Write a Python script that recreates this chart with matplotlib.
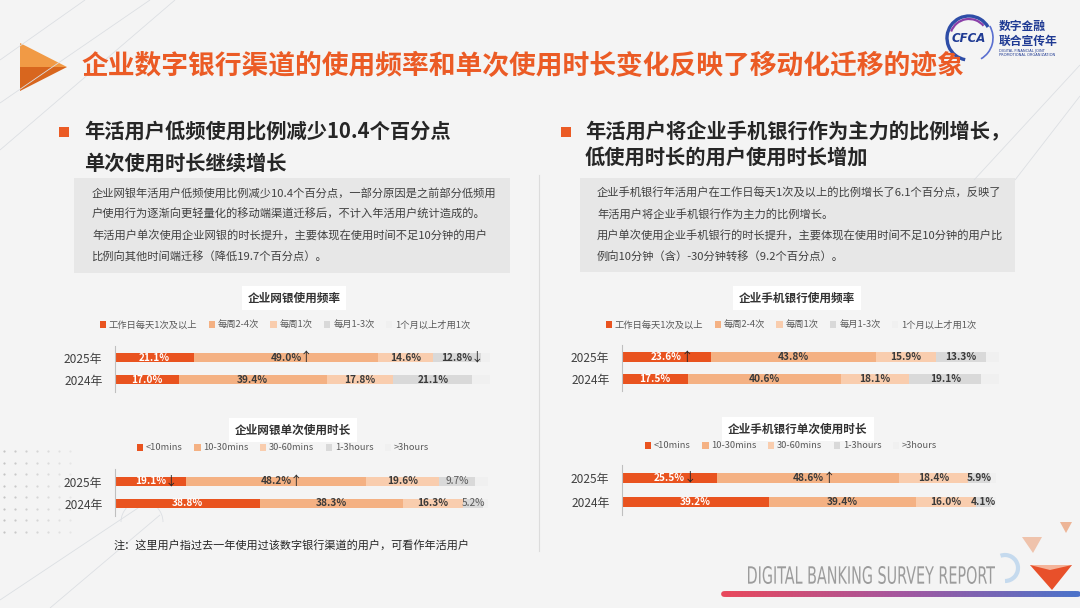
import matplotlib
matplotlib.use('Agg')
import matplotlib.pyplot as plt
import numpy as np
from matplotlib.patches import Rectangle, Polygon, Arc, PathPatch
from matplotlib.collections import LineCollection
from matplotlib.textpath import TextPath
from matplotlib.font_manager import FontProperties
from matplotlib.transforms import Affine2D

plt.rcParams['font.family'] = ['Noto Sans CJK SC', 'DejaVu Sans']

# ---- data ----
years = ['2025年', '2024年']
freq_cats = ['工作日每天1次及以上', '每周2-4次', '每周1次', '每月1-3次', '1个月以上才用1次']
dur_cats = ['<10mins', '10-30mins', '30-60mins', '1-3hours', '>3hours']

web_freq_2025 = [21.1, 49.0, 14.6, 12.8, 2.5]
web_freq_2024 = [17.0, 39.4, 17.8, 21.1, 4.7]
web_dur_2025 = [19.1, 48.2, 19.6, 9.7, 3.4]
web_dur_2024 = [38.8, 38.3, 16.3, 5.2, 1.4]
mob_freq_2025 = [23.6, 43.8, 15.9, 13.3, 3.4]
mob_freq_2024 = [17.5, 40.6, 18.1, 19.1, 4.7]
mob_dur_2025 = [25.5, 48.6, 18.4, 5.9, 1.6]
mob_dur_2024 = [39.2, 39.4, 16.0, 4.1, 1.3]

# change arrows on the 2025 row
web_freq_arrows = ['', '↑', '', '↓', '']
web_dur_arrows = ['↓', '↑', '', '', '']
mob_freq_arrows = ['↑', '', '', '', '']
mob_dur_arrows = ['↓', '↑', '', '', '']

title = '企业数字银行渠道的使用频率和单次使用时长变化反映了移动化迁移的迹象'
left_head = ['年活用户低频使用比例减少10.4个百分点', '单次使用时长继续增长']
right_head = ['年活用户将企业手机银行作为主力的比例增长，', '低使用时长的用户使用时长增加']
left_box = ['企业网银年活用户低频使用比例减少10.4个百分点，一部分原因是之前部分低频用',
            '户使用行为逐渐向更轻量化的移动端渠道迁移后，不计入年活用户统计造成的。',
            '年活用户单次使用企业网银的时长提升，主要体现在使用时间不足10分钟的用户',
            '比例向其他时间端迁移（降低19.7个百分点）。']
right_box = ['企业手机银行年活用户在工作日每天1次及以上的比例增长了6.1个百分点，反映了',
             '年活用户将企业手机银行作为主力的比例增长。',
             '用户单次使用企业手机银行的时长提升，主要体现在使用时间不足10分钟的用户比',
             '例向10分钟（含）-30分钟转移（9.2个百分点）。']
note = '注：这里用户指过去一年使用过该数字银行渠道的用户，可看作年活用户'

seg_colors = ['#E9531F', '#F4B183', '#F9CDAE', '#D9D9D9', '#F0F0F0']
ORANGE = '#EB5B25'
W_PX, H_PX = 1080, 608

fig = plt.figure(figsize=(10.8, 6.08), dpi=100)
fig.patch.set_facecolor('#F4F4F4')
bg = fig.add_axes([0, 0, 1, 1])
bg.set_xlim(0, W_PX)
bg.set_ylim(H_PX, 0)
bg.axis('off')

# ---- background decoration ----
deco = [[(0, 103), (150, 0)], [(0, 150), (175, 0)], [(0, 60), (85, 0)],
        [(1080, 65), (974, 180)], [(1080, 96), (1015, 180)],
        [(0, 600), (150, 500)], [(50, 608), (160, 515)]]
bg.add_collection(LineCollection(deco, colors='#DCDFE3', linewidths=0.6))
bg.add_patch(Arc((142, 522), 42, 42, theta1=180, theta2=360, color='#DCDFE3', lw=0.6))
for j in range(8):
    for k in range(7):
        bg.plot(4 + 11 * k, 451 + 11.5 * j, 'o', ms=1.6, color='#C4C4C4',
                alpha=max(0.15, 1 - 0.12 * k), mec='none')
bg.plot([539, 539], [175, 551], color='#DCDCDC', lw=0.8)

# ---- header ----
bg.add_patch(Polygon([(20, 43), (67, 67), (20, 67)], color='#F19A45', lw=0))
bg.add_patch(Polygon([(20, 67), (67, 67), (20, 91)], color='#D8661E', lw=0))
bg.text(82, 66, title, fontsize=19.3, weight='bold', color=ORANGE, va='center', ha='left')

# logo
bg.add_patch(Arc((969, 38), 44, 44, theta1=100, theta2=330, color='#2E4DA7', lw=2.4))
bg.add_patch(Arc((969, 38), 38, 38, theta1=200, theta2=320, color='#8A3FA8', lw=1.6))
bg.add_patch(Arc((969, 38), 48, 48, theta1=330, theta2=420, color='#5A6FD0', lw=1.2))
bg.text(969, 39, 'CFCA', fontsize=8.5, weight='bold', style='italic', color='#1F3A93',
        ha='center', va='center', family='DejaVu Sans')
bg.text(999, 26, '数字金融', fontsize=8.5, weight='bold', color='#1F3A93', va='center')
bg.text(999, 41, '联合宣传年', fontsize=8.5, weight='bold', color='#1F3A93', va='center')
bg.text(999, 51, 'DIGITAL FINANCIAL JOINT', fontsize=2.6, color='#1F3A93', va='center',
        family='DejaVu Sans')
bg.text(999, 55.5, 'PROMOTIONAL ORGANIZATION', fontsize=2.6, color='#1F3A93', va='center',
        family='DejaVu Sans')

# ---- section headings ----
for sx, tx, lines, ys in [(64, 84, left_head, (132, 163)), (566, 585, right_head, (132, 158))]:
    bg.add_patch(Rectangle((sx - 5, 127), 10, 10, color=ORANGE, lw=0))
    for line, y in zip(lines, ys):
        bg.text(tx, y, line, fontsize=14.6, weight='bold', color='#262626', va='center')

# ---- grey text boxes ----
for (x0, x1, y0, y1), tx, lines in [((74, 510, 178, 273), 92, left_box),
                                    ((580, 1015, 178, 272), 597, right_box)]:
    bg.add_patch(Rectangle((x0, y0), x1 - x0, y1 - y0, color='#E7E7E7', lw=0))
    for line, y in zip(lines, (193, 214, 236, 257)):
        bg.text(tx, y, line, fontsize=8.1, color='#404040', va='center')


def draw_chart(left, width, r25, r24, cats, v25, v24, arrows, ctitle, title_x, title_y,
               leg_x, leg_y, plain_last=False):
    d = r24 - r25
    top = r25 - 0.55 * d
    bottom = r24 + 0.55 * d
    ax = fig.add_axes([left / W_PX, 1 - bottom / H_PX, width / W_PX, (bottom - top) / H_PX])
    ax.set_facecolor('none')
    ax.set_xlim(0, 100)
    ax.set_ylim(1.55, -0.55)
    rows = np.array([0, 1])
    starts = np.zeros(2)
    bh = 9.5 / d
    for i, cat in enumerate(cats):
        vals = np.array([v25[i], v24[i]])
        ax.barh(rows, vals, left=starts, height=bh, color=seg_colors[i], label=cat, lw=0)
        if i < 4:
            for r, v, s in zip(rows, vals, starts):
                col = 'white' if i == 0 else '#3A3A3A'
                wt = 'bold'
                if plain_last and i == 3:
                    col, wt = '#595959', 'normal'
                ax.text(s + v / 2, r, f'{v:.1f}%', ha='center', va='center',
                        fontsize=7.3, weight=wt, color=col)
            if arrows[i]:
                ax.annotate(arrows[i], (starts[0] + vals[0] / 2, 0), xytext=(14.5, 0),
                            textcoords='offset points', ha='center', va='center',
                            fontsize=9, color='#262626')
        starts += vals
    for s in ['top', 'right', 'bottom']:
        ax.spines[s].set_visible(False)
    ax.spines['left'].set_color('#BFBFBF')
    ax.spines['left'].set_linewidth(0.8)
    ax.set_xticks([])
    ax.set_yticks(rows, years)
    ax.tick_params(axis='y', length=0, pad=9, labelsize=8.6, labelcolor='#404040')
    bg.text(title_x, title_y, ctitle, ha='center', va='center', fontsize=8.4,
            weight='bold', color='#333333',
            bbox=dict(boxstyle='square,pad=0.5', fc='white', ec='none'))
    leg = ax.legend(loc='center', bbox_to_anchor=(leg_x / W_PX, 1 - leg_y / H_PX),
                    bbox_transform=fig.transFigure, ncol=5, frameon=False, fontsize=6.7,
                    handlelength=0.7, handleheight=0.7, handletextpad=0.3,
                    columnspacing=1.2, borderpad=0)
    for t in leg.get_texts():
        t.set_color('#595959')
    return ax


draw_chart(115, 375, 357.7, 379.7, freq_cats, web_freq_2025, web_freq_2024, web_freq_arrows,
           '企业网银使用频率', 294, 298, 285, 325)
draw_chart(115, 373, 481.5, 503.5, dur_cats, web_dur_2025, web_dur_2024, web_dur_arrows,
           '企业网银单次使用时长', 293, 430, 283, 448, plain_last=True)
draw_chart(622, 377, 357, 379, freq_cats, mob_freq_2025, mob_freq_2024, mob_freq_arrows,
           '企业手机银行使用频率', 797, 298, 791, 325)
draw_chart(622, 374, 478, 502, dur_cats, mob_dur_2025, mob_dur_2024, mob_dur_arrows,
           '企业手机银行单次使用时长', 798, 429, 791, 446)

bg.text(114, 545, note, fontsize=8, color='#262626', va='center')

# ---- footer ----
fp = FontProperties(family='DejaVu Sans', stretch='condensed')
tp = TextPath((0, 0), 'DIGITAL BANKING SURVEY REPORT', size=1, prop=fp)
ext = tp.get_extents()
tr = Affine2D().translate(-ext.x0, -ext.y0).scale(247 / ext.width, -18 / ext.height).translate(748, 584)
bg.add_patch(PathPatch(tr.transform_path(tp), fc='#9C9C9C', ec='none'))

xs = np.linspace(724, 1078, 120)
segs = [[(xs[i], 594), (xs[i + 1], 594)] for i in range(len(xs) - 1)]
cmap = matplotlib.colors.LinearSegmentedColormap.from_list('foot', ['#E8485C', '#A5569E', '#4D72C9'])
bg.add_collection(LineCollection(segs, colors=cmap(np.linspace(0, 1, len(segs))),
                                 linewidths=4.2, capstyle='round'))
bg.add_patch(Arc((1005, 568), 26, 26, theta1=-110, theta2=90, color='#C5DAEE', lw=3))
bg.add_patch(Polygon([(1030, 565), (1072, 565), (1052, 590)], color='#E8502A', lw=0))
bg.add_patch(Polygon([(1030, 565), (1072, 565), (1050, 570)], color='#F4B49A', lw=0))
bg.add_patch(Polygon([(1022, 537), (1042, 537), (1033, 553)], color='#EFC3AC', lw=0))
bg.add_patch(Polygon([(1060, 522), (1072, 522), (1066, 533)], color='#EDB597', lw=0))

fig.savefig('out.png', dpi=100, facecolor=fig.get_facecolor())
